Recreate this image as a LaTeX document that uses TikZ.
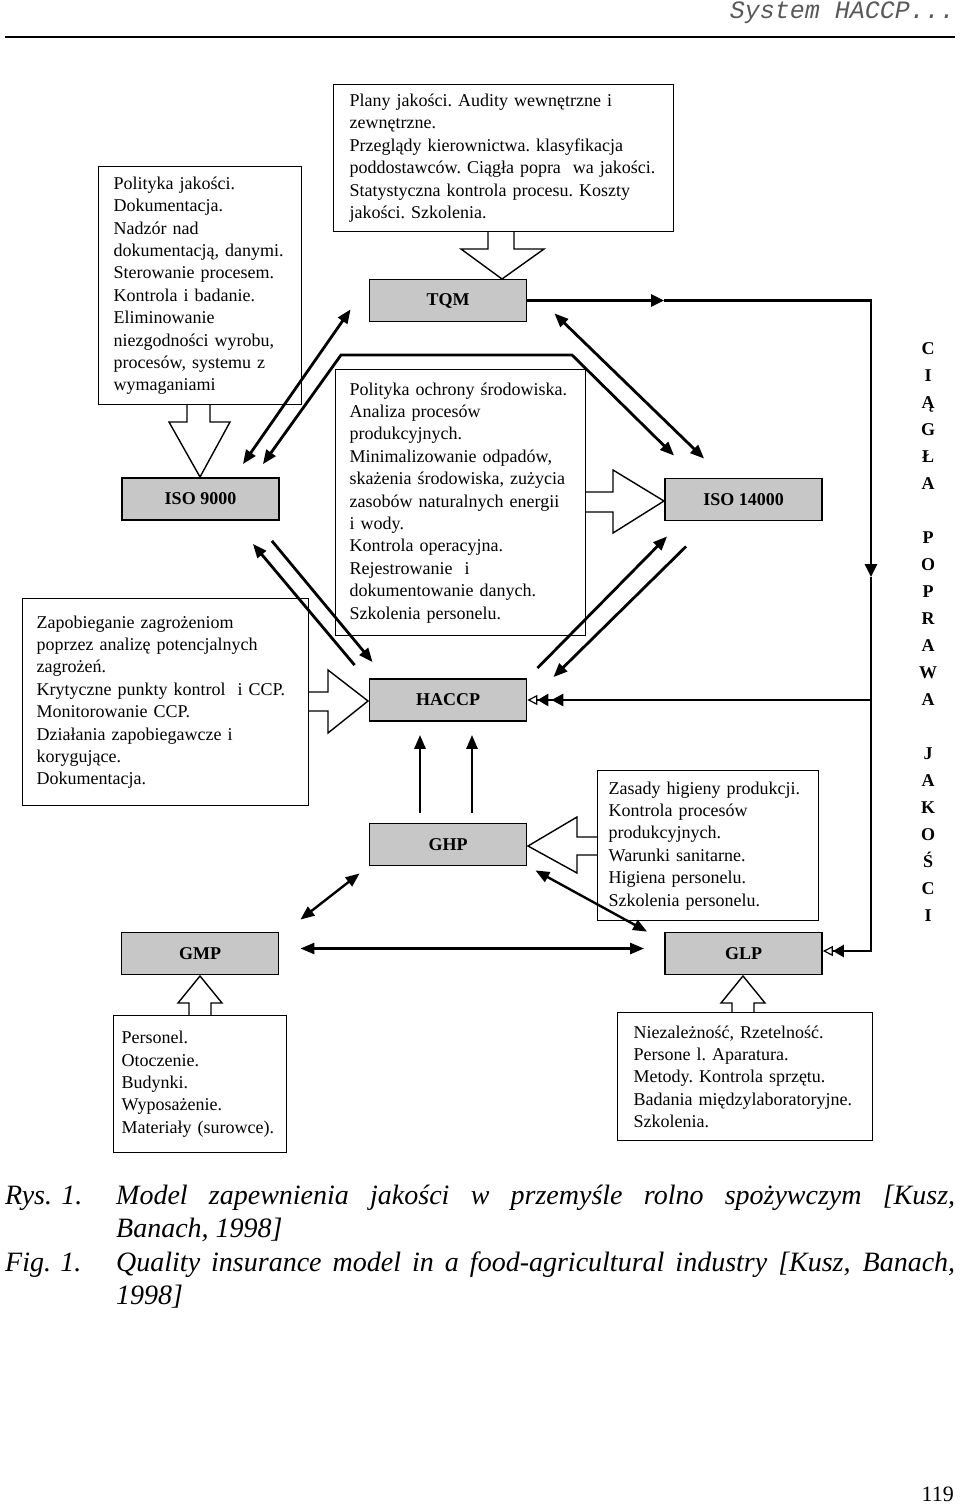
\documentclass[tikz,border=0pt]{standalone}
\usepackage{fontspec}
\setmainfont{Liberation Serif}
\newfontfamily\hdrfont{Liberation Mono}
\usepackage{tikz}
\usetikzlibrary{arrows.meta}
\definecolor{boxgray}{gray}{0.78}
\definecolor{hdrgray}{gray}{0.35}
\newcommand{\bxfont}{\fontsize{18}{22.4}\selectfont\frenchspacing}
\newcommand{\lbfont}{\fontsize{18}{20}\selectfont\bfseries}
\newcommand{\capfont}{\fontsize{28}{28}\selectfont\itshape}

\begin{document}
\begin{tikzpicture}[x=1pt,y=-1pt,
       gbox/.style={draw,line width=1.8pt,fill=boxgray,minimum width=157pt,
         minimum height=42pt,inner sep=0pt,font=\lbfont},
       txtbox/.style={draw,line width=1.4pt,anchor=north west,align=left,
         inner ysep=0pt,font=\bxfont},
       barrow/.style={line width=1.4pt},
       conn/.style={line width=2.8pt},
       lconn/.style={line width=2.4pt},
       >={Triangle[length=14pt,width=11pt]}]
       \useasboundingbox (0,0) rectangle (960,1504);
       \node[anchor=east,inner sep=0pt,text=hdrgray,
         font=\hdrfont\fontsize{25}{25}\selectfont\itshape] (hdr) at (955,13) {System HACCP...};
       \draw[line width=1.8pt] (5,37) -- (955,37);

       \node[gbox] (tqm) at (448,300.5) {TQM};
       \node[gbox] (iso9) at (200.5,499) {ISO 9000};
       \node[gbox] (iso14) at (743.5,499.5) {ISO 14000};
       \node[gbox] (haccp) at (448,700) {HACCP};
       \node[gbox] (ghp) at (448,844.5) {GHP};
       \node[gbox] (gmp) at (200,953.5) {GMP};
       \node[gbox] (glp) at (743.5,953.5) {GLP};

       \node[txtbox,text width=308pt,minimum height=147pt,inner xsep=16pt] (plany) at (333,84)
         {Plany jakości. Audity wewnętrzne i\\ zewnętrzne.\\
          Przeglądy kierownictwa. klasyfikacja\\ poddostawców. Ciągła popra\ \ wa jakości.\\
          Statystyczna kontrola procesu. Koszty\\ jakości. Szkolenia.};
       \node[txtbox,text width=173pt,minimum height=238pt,inner xsep=15pt] (polityka) at (98,166)
         {Polityka jakości.\\ Dokumentacja.\\ Nadzór nad\\ dokumentacją, danymi.\\
          Sterowanie procesem.\\ Kontrola i badanie.\\ Eliminowanie\\
          niezgodności wyrobu,\\ procesów, systemu z\\ wymaganiami};
       \node[txtbox,text width=222pt,minimum height=266pt,inner xsep=14pt] (srodowisko) at (335,369)
         {Polityka ochrony środowiska.\\ Analiza procesów\\ produkcyjnych.\\
          Minimalizowanie odpadów,\\ skażenia środowiska, zużycia\\
          zasobów naturalnych energii\\ i wody.\\ Kontrola operacyjna.\\
          Rejestrowanie\ \ i\\ dokumentowanie danych.\\ Szkolenia personelu.};
       \node[txtbox,text width=258pt,minimum height=207pt,inner xsep=14pt] (zagrozenia) at (22,598)
         {Zapobieganie zagrożeniom\\ poprzez analizę potencjalnych\\ zagrożeń.\\
          Krytyczne punkty kontrol\ \ i CCP.\\ Monitorowanie CCP.\\
          Działania zapobiegawcze i\\ korygujące.\\ Dokumentacja.};
       \node[txtbox,text width=199pt,minimum height=150pt,inner xsep=11pt] (higiena) at (597,770)
         {Zasady higieny produkcji.\\ Kontrola procesów\\ produkcyjnych.\\
          Warunki sanitarne.\\ Higiena personelu.\\ Szkolenia personelu.};
       \node[txtbox,text width=157pt,minimum height=137pt,inner xsep=8pt] (personel) at (113,1015)
         {Personel.\\ Otoczenie.\\ Budynki.\\ Wyposażenie.\\ Materiały (surowce).};
       \node[txtbox,text width=223pt,minimum height=128pt,inner xsep=16pt] (rzetelnosc) at (617,1012)
         {Niezależność, Rzetelność.\\ Persone l. Aparatura.\\ Metody. Kontrola sprzętu.\\
          Badania międzylaboratoryjne.\\ Szkolenia.};

       \draw[barrow] (488,231) -- (488,249) -- (461,249) -- (502,279) -- (544,249) -- (514,249) -- (514,231);
       \draw[barrow] (187,404) -- (187,422) -- (169,422) -- (200,477) -- (230,422) -- (210,422) -- (210,404);
       \draw[barrow] (585,492) -- (613,492) -- (613,470) -- (664,501) -- (613,533) -- (613,512) -- (585,512);
       \draw[barrow] (308,692) -- (328,692) -- (328,670) -- (368,701) -- (328,733) -- (328,711) -- (308,711);
       \draw[barrow] (597,837) -- (577,837) -- (577,817) -- (528,846) -- (577,873) -- (577,855) -- (597,855);
       \draw[barrow] (189,1015) -- (189,1003) -- (178,1003) -- (200,976) -- (222,1003) -- (211,1003) -- (211,1015);
       \draw[barrow] (732,1012) -- (732,1003) -- (721,1003) -- (743,976) -- (765,1003) -- (754,1003) -- (754,1012);

       \coordinate (roofl) at (341,355);
       \coordinate (roofr) at (572,355);
       \draw[conn,<->] ([shift={(-37,-13)}]iso9.north east) -- ([shift={(-18,-13)}]tqm.south west);
       \draw[conn,<->] ([shift={(-17,-13)}]iso9.north east) -- (roofl) -- (roofr)
         -- ([shift={(10,-22)}]iso14.north west);
       \draw[conn,<->] ([shift={(27,-9)}]tqm.south east) -- ([shift={(40,-19)}]iso14.north west);
       \draw[conn,->] ([shift={(-14,-13)}]haccp.north west) -- ([shift={(-27,23)}]iso9.south east);
       \draw[conn,->] ([shift={(-8,20)}]iso9.south east) -- ([shift={(4,-16)}]haccp.north west);
       \draw[conn,->] ([shift={(10,-10)}]haccp.north east) -- ([shift={(3,15)}]iso14.south west);
       \draw[conn,->] ([shift={(22,25)}]iso14.south west) -- ([shift={(26,-1)}]haccp.north east);
       \draw[conn,->] ([shift={(-28,-10)}]ghp.north) -- ([shift={(-28,13)}]haccp.south);
       \draw[conn,->] ([shift={(24,-10)}]ghp.north) -- ([shift={(24,13)}]haccp.south);
       \draw[lconn,<->] ([shift={(-9,7)}]ghp.south west) -- ([shift={(21,-12)}]gmp.north east);
       \draw[lconn,<->] ([shift={(8,4)}]ghp.south east) -- ([shift={(-17,0)}]glp.north west);
       \draw[lconn,<->] ([shift={(21,-5)}]gmp.east) -- ([shift={(-20,-5)}]glp.west);

       \coordinate (tqmarr) at (664,300.5);
       \coordinate (rtop) at (871,300.5);
       \coordinate (rarr) at (871,577);
       \coordinate (rmid) at (871,700);
       \coordinate (rbot) at (871,951);
       \draw[conn,-{Triangle[length=13pt,width=12pt]}] (tqm.east) -- (tqmarr);
       \draw[conn,-{Triangle[length=13pt,width=12pt]}] (tqmarr) -- (rtop) -- (rarr);
       \draw[conn,-{Triangle[length=11pt,width=12pt] Triangle[open,length=10pt,width=10pt,line width=1.2pt]}]
         (rarr) -- (rbot) -- (rbot -| glp.east);
       \draw[conn,-{Triangle[length=12pt,width=12pt,sep=3pt] Triangle[length=11pt,width=12pt]
         Triangle[open,length=10pt,width=10pt,line width=1.2pt]}] (rmid) -- (haccp.east);

       \node[anchor=north,align=center,inner sep=0pt,font=\fontsize{18}{27}\selectfont\bfseries]
         (ciagla) at (928,342) {C\\I\\Ą\\G\\Ł\\A\\[27pt]P\\O\\P\\R\\A\\W\\A\\[27pt]J\\A\\K\\O\\Ś\\C\\I};

       \node[anchor=base west,inner sep=0pt,font=\capfont] (rys) at (5,1204) {Rys. 1.};
       \node[anchor=base west,inner sep=0pt,font=\capfont] (rysa) at (116,1204)
         {\makebox[839pt][s]{Model zapewnienia jakości w przemyśle rolno spożywczym [Kusz,}};
       \node[anchor=base west,inner sep=0pt,font=\capfont] (rysb) at (116,1237) {Banach, 1998]};
       \node[anchor=base west,inner sep=0pt,font=\capfont] (fig) at (5,1271) {Fig. 1.};
       \node[anchor=base west,inner sep=0pt,font=\capfont] (figa) at (116,1271)
         {\makebox[839pt][s]{Quality insurance model in a food-agricultural industry [Kusz, Banach,}};
       \node[anchor=base west,inner sep=0pt,font=\capfont] (figb) at (116,1304) {1998]};
       \node[anchor=base east,inner sep=0pt,font=\fontsize{22}{22}\selectfont] (strona) at (954,1501) {119};
      \end{tikzpicture}
\end{document}
